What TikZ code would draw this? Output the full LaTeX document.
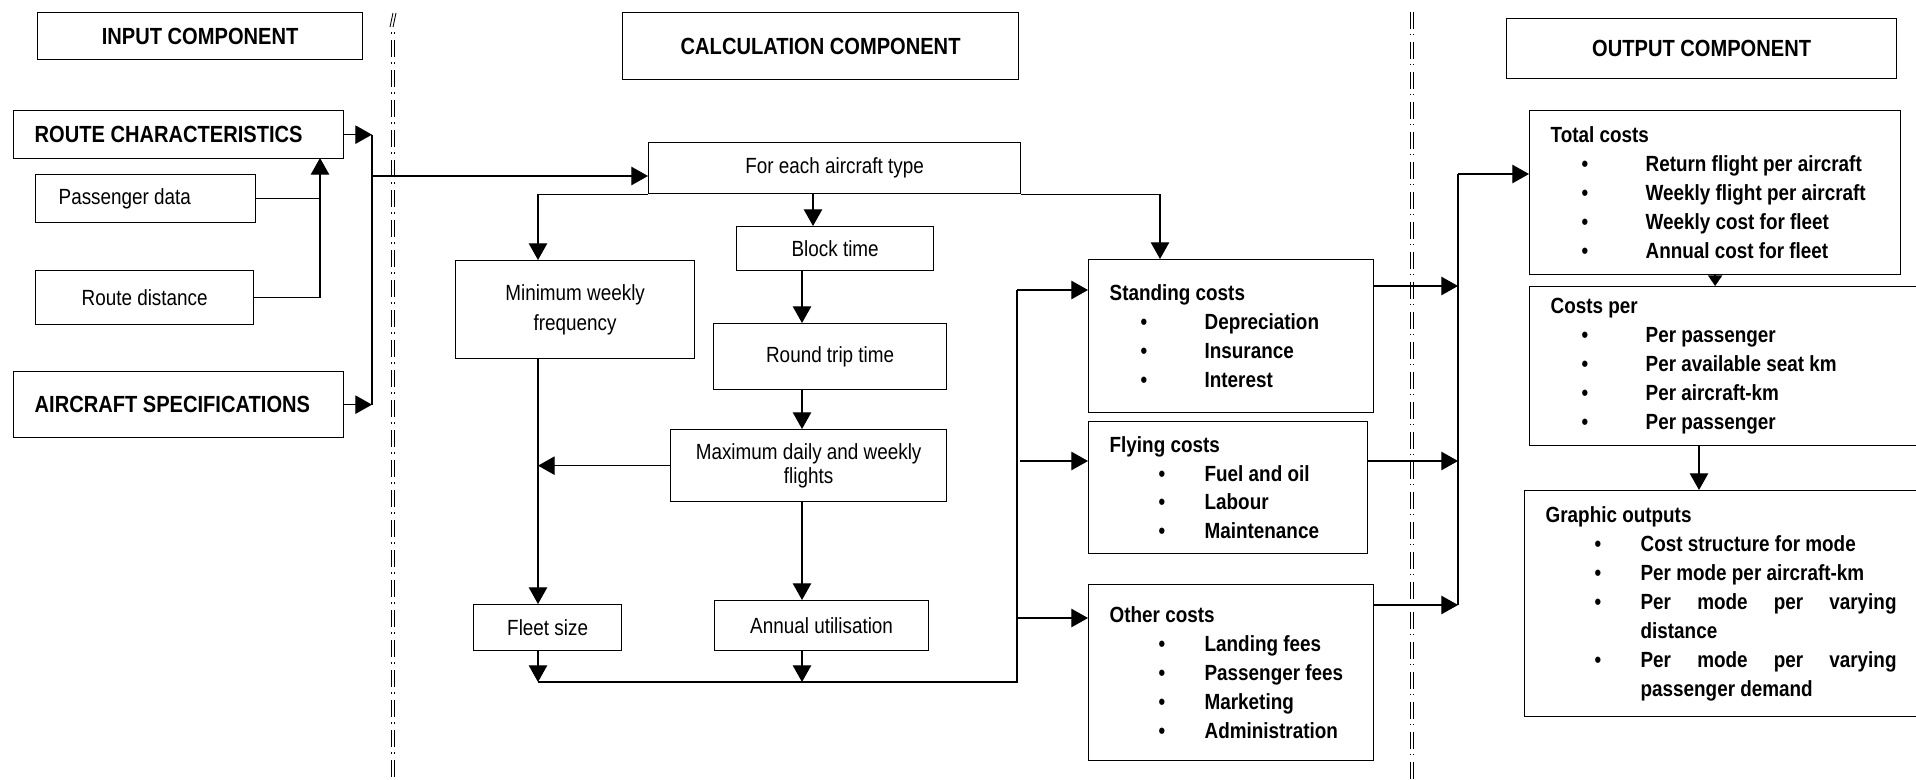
\documentclass[tikz,border=0pt]{standalone}
\usepackage{fontspec}
\setmainfont{Liberation Sans}[FakeStretch=0.86]
\usetikzlibrary{arrows.meta}

% bullet line: bullet at #1 from the left, text at 1.9cm
\newcommand{\bul}[2][0.62cm]{\makebox[1.9cm][l]{\hspace*{#1}\textbullet}#2}

\begin{document}
\begin{tikzpicture}[x=0.02cm, y=-0.02cm, line width=0.75pt,
    box/.style={draw, anchor=north west, inner sep=0pt, align=center, font=\fontsize{12.5}{17}\selectfont},
    headbox/.style={draw, anchor=north west, inner sep=0pt, font=\fontsize{13.3}{16}\selectfont\bfseries},
    listbox/.style={draw, anchor=north west, inner xsep=0.42cm, inner ysep=0pt, align=flush left, font=\fontsize{12.5}{16.5}\selectfont\bfseries},
    arr/.style={-{Triangle[length=9.5pt,width=10.5pt]}},
    divline/.style={line width=0.6pt, dash pattern=on 9.67pt off 2.85pt on 0.85pt off 3.7pt}]
    \useasboundingbox (0,0) rectangle (1916,780);
    \clip (0,0) rectangle (1916,780);

    % Dividers between the three components
    \foreach \xd in {391.5,394.5}
        \draw[divline, dash phase=11.1pt] (\xd,30) -- (\xd,780);
    \foreach \xd in {1410.5,1413.5}
        \draw[divline] (\xd,12) -- (\xd,780);
    \draw[line width=0.5pt] (390,27) -- (393,13) (393,27) -- (396,13);

    % Input component
    \node[headbox, minimum width=6.5cm, minimum height=0.94cm] (incomp) at (37,12) {INPUT COMPONENT};
    \node[headbox, align=flush left, text width=5.76cm, inner xsep=0.42cm, minimum height=0.96cm] (route) at (13,110) {ROUTE CHARACTERISTICS};
    \node[box, align=flush left, text width=3.48cm, inner xsep=0.46cm, minimum height=0.96cm] (pax) at (35,174) {Passenger data};
    \node[box, minimum width=4.36cm, minimum height=1.08cm] (dist) at (35,270) {Route distance};
    \node[headbox, align=flush left, text width=5.76cm, inner xsep=0.42cm, minimum height=1.32cm] (acspec) at (13,371) {AIRCRAFT SPECIFICATIONS};

    % Calculation component
    \node[headbox, minimum width=7.92cm, minimum height=1.34cm] (calccomp) at (622,12) {CALCULATION COMPONENT};
    \node[box, minimum width=7.44cm, minimum height=1.02cm] (foreach) at (648,142) {For each aircraft type};
    \node[box, minimum width=4.78cm, minimum height=1.96cm] (minfreq) at (455,260) {Minimum weekly\\frequency};
    \node[box, minimum width=3.94cm, minimum height=0.88cm] (block) at (736,226) {Block time};
    \node[box, minimum width=4.66cm, minimum height=1.32cm] (roundtrip) at (713,323) {Round trip time};
    \node[box, minimum width=5.52cm, minimum height=1.44cm, font=\fontsize{12.5}{14}\selectfont] (maxflights) at (670,429) {Maximum daily and weekly\\flights};
    \node[box, minimum width=2.96cm, minimum height=0.92cm] (fleet) at (473,604) {Fleet size};
    \node[box, minimum width=4.28cm, minimum height=1.0cm] (annual) at (714,600) {Annual utilisation};

    % Cost groups
    \node[listbox, text width=4.86cm, minimum height=3.06cm] (standing) at (1088,259)
        {Standing costs\\ \bul{Depreciation}\\ \bul{Insurance}\\ \bul{Interest}};
    \node[listbox, text width=4.74cm, minimum height=2.64cm] (flying) at (1088,421)
        {Flying costs\\ \bul[0.98cm]{Fuel and oil}\\ \bul[0.98cm]{Labour}\\ \bul[0.98cm]{Maintenance}};
    \node[listbox, text width=4.86cm, minimum height=3.52cm] (other) at (1088,584)
        {Other costs\\ \bul[0.98cm]{Landing fees}\\ \bul[0.98cm]{Passenger fees}\\ \bul[0.98cm]{Marketing}\\ \bul[0.98cm]{Administration}};

    % Output component
    \node[headbox, minimum width=7.8cm, minimum height=1.2cm] (outcomp) at (1506,18) {OUTPUT COMPONENT};
    \node[listbox, text width=6.58cm, minimum height=3.28cm] (total) at (1529,110)
        {Total costs\\ \bul{Return flight per aircraft}\\ \bul{Weekly flight per aircraft}\\ \bul{Weekly cost for fleet}\\ \bul{Annual cost for fleet}};
    \node[listbox, text width=7.18cm, minimum height=3.18cm] (costper) at (1529,286)
        {Costs per\\ \bul{Per passenger}\\ \bul{Per available seat km}\\ \bul{Per aircraft-km}\\ \bul{Per passenger}};
    \node[listbox, text width=7.28cm, minimum height=4.52cm] (graphic) at (1524,490)
        {Graphic outputs\\ \bul[0.98cm]{Cost structure for mode}\\ \bul[0.98cm]{Per mode per aircraft-km}\\
         \bul[0.98cm]{\hbox to 5.12cm{Per\hfill mode\hfill per\hfill varying}}\\ \hspace*{1.9cm}distance\\
         \bul[0.98cm]{\hbox to 5.12cm{Per\hfill mode\hfill per\hfill varying}}\\ \hspace*{1.9cm}passenger demand};

    % Junctions for the connectors
    \coordinate (injoin) at (372,176);
    \coordinate (rcin) at (320,158);
    \coordinate (spine) at (538,0);
    \coordinate (colA) at (813,0);
    \coordinate (colB) at (802,0);
    \coordinate (colC) at (1160,0);
    \coordinate (bus) at (1017,682);
    \coordinate (busS) at (1017,290);
    \coordinate (busF) at (1020,461);
    \coordinate (busO) at (1017,618);
    \coordinate (outS) at (1458,174);
    \coordinate (outB) at (1458,605);
    \coordinate (colD) at (1699,0);

    % Input arrows
    \draw[arr] (route.east) -- (route.east -| injoin);
    \draw[arr] (acspec.east) -- (acspec.east -| injoin);
    \draw (route.east -| injoin) -- (acspec.east -| injoin);
    \draw[arr] (injoin) -- (injoin -| foreach.west);
    \draw (pax.east) -- (pax.east -| rcin);
    \draw[arr] (dist.east) -| (rcin);

    % Calculation arrows
    \draw[arr] (foreach.south west) -| (spine |- minfreq.north);
    \draw[arr] (foreach.south -| colA) -- (colA |- block.north);
    \draw[arr] (foreach.south east) -| (colC |- standing.north);
    \draw[arr] (block.south -| colB) -- (colB |- roundtrip.north);
    \draw[arr] (roundtrip.south -| colB) -- (colB |- maxflights.north);
    \draw[arr] (maxflights.south -| colB) -- (colB |- annual.north);
    \draw[arr] (maxflights.west) -- (maxflights.west -| spine);
    \draw[arr] (minfreq.south -| spine) -- (spine |- fleet.north);
    \draw[arr] (fleet.south -| spine) -- (spine |- bus);
    \draw[arr] (annual.south -| colB) -- (colB |- bus);
    \draw (spine |- bus) -- (bus) -- (busS);
    \draw[arr] (busS) -- (busS -| standing.west);
    \draw[arr] (busF) -- (busF -| flying.west);
    \draw[arr] (busO) -- (busO -| other.west);

    % Output arrows
    \draw[arr] ([yshift=0.08cm]busS -| standing.east) -- ([yshift=0.08cm]busS -| outS);
    \draw[arr] (busF -| flying.east) -- (busF -| outS);
    \draw[arr] (outB -| other.east) -- (outB);
    \draw (outS) -- (outB);
    \draw[arr] (outS) -- (outS -| total.west);
    \draw[-{Triangle[length=6pt,width=8pt]}] (total.south) -- (total.south |- costper.north);
    \draw[arr] (costper.south -| colD) -- (colD |- graphic.north);
\end{tikzpicture}
\end{document}
